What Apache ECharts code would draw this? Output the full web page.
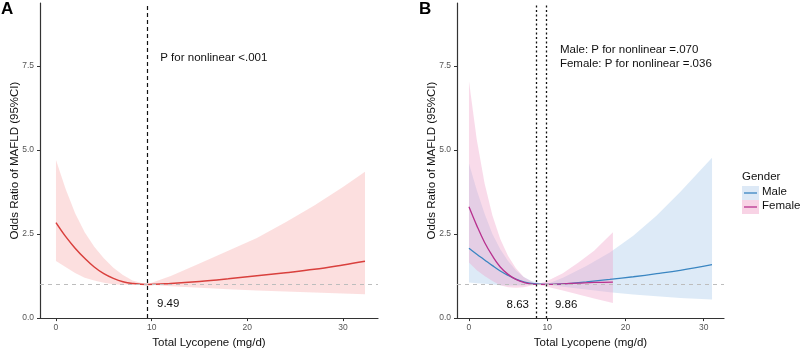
<!DOCTYPE html>
<html>
<head>
<meta charset="utf-8">
<script src="https://cdn.jsdelivr.net/npm/echarts@6/dist/echarts.min.js"></script>
<style>
  html, body { margin: 0; padding: 0; background: #fff; }
  #chart { width: 800px; height: 354px; }
</style>
</head>
<body>
<div id="chart"></div>
<script>
// Panel A: overall
var xA  = [0, 1, 2, 3, 4, 5, 6, 7, 8, 9.49, 12, 15, 18, 21, 24, 27, 30, 32.3];
var orA = [2.84, 2.43, 2.08, 1.78, 1.52, 1.32, 1.18, 1.08, 1.03, 1.0, 1.03, 1.09, 1.17, 1.26, 1.35, 1.45, 1.58, 1.69];
var loA = [1.70, 1.52, 1.34, 1.20, 1.12, 1.05, 1.01, 0.995, 0.99, 1.0, 0.95, 0.90, 0.86, 0.82, 0.79, 0.76, 0.73, 0.71];
var hiA = [4.70, 3.85, 3.12, 2.55, 2.12, 1.78, 1.50, 1.28, 1.12, 1.0, 1.25, 1.62, 2.0, 2.38, 2.85, 3.35, 3.9, 4.35];

// Panel B: by gender
var xMale  = [0, 1, 2, 3, 4, 5, 6, 7, 8, 9.86, 12, 15, 18, 21, 24, 27, 31.07];
var orMale = [2.08, 1.90, 1.73, 1.56, 1.40, 1.27, 1.16, 1.08, 1.03, 1.0, 1.02, 1.08, 1.15, 1.23, 1.32, 1.42, 1.59];
var loMale = [1.06, 1.04, 1.02, 1.0, 0.98, 0.97, 0.97, 0.98, 0.99, 1.0, 0.93, 0.85, 0.77, 0.70, 0.65, 0.60, 0.55];
var hiMale = [4.6, 3.8, 3.1, 2.5, 2.05, 1.7, 1.42, 1.22, 1.1, 1.0, 1.2, 1.55, 1.95, 2.45, 3.05, 3.75, 4.77];

var xFemale  = [0, 1, 2, 3, 4, 5, 6, 7, 8.63, 10, 12, 14, 16, 18.4];
var orFemale = [3.31, 2.75, 2.25, 1.85, 1.52, 1.30, 1.15, 1.06, 1.0, 1.0, 1.02, 1.04, 1.06, 1.07];
var loFemale = [1.65, 1.42, 1.25, 1.1, 0.98, 0.92, 0.9, 0.92, 1.0, 0.93, 0.82, 0.70, 0.58, 0.45];
var hiFemale = [7.04, 5.3, 4.0, 3.05, 2.35, 1.85, 1.48, 1.22, 1.0, 1.1, 1.33, 1.65, 2.0, 2.55];

var knotA = 9.49, knotFemale = 8.63, knotMale = 9.86;
var yTicks = [0, 2.5, 5, 7.5];
var xTicks = [0, 10, 20, 30];

var FONT = 'Liberation Sans, Arial, sans-serif';
var myChart = echarts.init(document.getElementById('chart'));

function xAxisCfg(idx, min, max) {
  return {
    type: 'value', gridIndex: idx, min: min, max: max,
    name: 'Total Lycopene (mg/d)', nameLocation: 'middle', nameGap: 18,
    nameTextStyle: { fontSize: 11.5, color: '#111', fontFamily: FONT },
    axisLine: { onZero: false, lineStyle: { color: '#333', width: 1.2 } },
    axisTick: { customValues: xTicks, length: 3, lineStyle: { color: '#333' } },
    axisLabel: { customValues: xTicks, margin: 5, fontSize: 8.5, color: '#555', fontFamily: FONT },
    splitLine: { show: false }
  };
}
function yAxisCfg(idx) {
  return {
    type: 'value', gridIndex: idx, min: 0, max: 9.37,
    name: 'Odds Ratio of MAFLD (95%CI)', nameLocation: 'middle', nameGap: 19,
    nameMoveOverlap: false,
    nameTextStyle: { fontSize: 11.5, color: '#111', fontFamily: FONT },
    axisLine: { show: true, onZero: false, lineStyle: { color: '#333', width: 1.2 } },
    axisTick: { show: true, customValues: yTicks, length: 3, lineStyle: { color: '#333' } },
    axisLabel: {
      customValues: yTicks, margin: 6, fontSize: 8.5, color: '#555', fontFamily: FONT,
      formatter: function (v) { return v.toFixed(1); }
    },
    splitLine: { show: false }
  };
}

// confidence band drawn as a polygon through the axis scales
function band(xs, lo, hi, color, idx) {
  return {
    type: 'custom', xAxisIndex: idx, yAxisIndex: idx, silent: true, z: 1,
    data: xs.map(function (x, i) { return [x, lo[i], hi[i]]; }),
    encode: { x: 0, y: [1, 2] },
    renderItem: function (params, api) {
      if (params.dataIndex !== 0) return;
      var pts = [];
      for (var i = 0; i < xs.length; i++) pts.push(api.coord([xs[i], hi[i]]));
      for (var j = xs.length - 1; j >= 0; j--) pts.push(api.coord([xs[j], lo[j]]));
      return { type: 'polygon', shape: { points: pts }, style: { fill: color } };
    }
  };
}

function pair(xs, ys) {
  return xs.map(function (x, i) { return [x, ys[i]]; });
}

function textPoint(coord, text, pos) {
  return {
    coord: coord, symbolSize: 0,
    label: { show: true, position: pos, distance: 0, formatter: text,
      fontSize: 11.5, color: '#111', fontFamily: FONT }
  };
}

var refLine = {
  yAxis: 1,
  lineStyle: { color: '#bdbdbd', type: [4, 4], width: 1 }
};

var option = {
  animation: false,
  textStyle: { fontFamily: FONT },
  title: [
    { text: 'A', left: 1, top: 1, padding: 0, textStyle: { fontSize: 17, fontWeight: 'bold', color: '#000' } },
    { text: 'B', left: 419, top: 1, padding: 0, textStyle: { fontSize: 17, fontWeight: 'bold', color: '#000' } }
  ],
  grid: [
    { left: 40, top: 3, width: 338, height: 316 },
    { left: 457, top: 3, width: 267, height: 316 }
  ],
  xAxis: [xAxisCfg(0, -1.67, 33.66), xAxisCfg(1, -1.53, 32.6)],
  yAxis: [yAxisCfg(0), yAxisCfg(1)],
  series: [
    band(xA, loA, hiA, 'rgba(246,170,172,0.38)', 0),
    {
      type: 'line', name: 'Overall', xAxisIndex: 0, yAxisIndex: 0, z: 3,
      data: pair(xA, orA), smooth: 0.4, showSymbol: false,
      lineStyle: { color: '#d9403d', width: 1.5 },
      markLine: {
        silent: true, symbol: 'none', label: { show: false },
        data: [
          refLine,
          { xAxis: knotA, lineStyle: { color: '#111', type: [4, 3], width: 1.2 } }
        ]
      },
      markPoint: {
        silent: true,
        data: [
          textPoint([10.9, 7.75], 'P for nonlinear <.001', 'right'),
          textPoint([10.56, 0.415], String(knotA), 'right')
        ]
      }
    },
    band(xMale, loMale, hiMale, 'rgba(175,205,236,0.42)', 1),
    band(xFemale, loFemale, hiFemale, 'rgba(240,160,200,0.38)', 1),
    {
      type: 'line', name: 'Male', xAxisIndex: 1, yAxisIndex: 1, z: 3,
      data: pair(xMale, orMale), smooth: 0.4, showSymbol: false,
      lineStyle: { color: '#3a86c2', width: 1.3 },
      markLine: {
        silent: true, symbol: 'none', label: { show: false },
        data: [
          refLine,
          { xAxis: knotFemale, lineStyle: { color: '#111', type: [2, 2.5], width: 1.3 } },
          { xAxis: knotMale, lineStyle: { color: '#111', type: [2, 2.5], width: 1.3 } }
        ]
      },
      markPoint: {
        silent: true,
        data: [
          textPoint([11.63, 7.97], 'Male: P for nonlinear =.070', 'right'),
          textPoint([11.63, 7.56], 'Female: P for nonlinear =.036', 'right'),
          textPoint([7.67, 0.385], String(knotFemale), 'left'),
          textPoint([10.99, 0.385], String(knotMale), 'right')
        ]
      }
    },
    {
      type: 'line', name: 'Female', xAxisIndex: 1, yAxisIndex: 1, z: 4,
      data: pair(xFemale, orFemale), smooth: 0.4, showSymbol: false,
      lineStyle: { color: '#b8328f', width: 1.3 }
    }
  ],
  graphic: [
    { type: 'text', left: 742, top: 171, style: { text: 'Gender', fontSize: 11.5, fill: '#111', fontFamily: FONT } },
    { type: 'rect', shape: { x: 742, y: 186, width: 17, height: 14 }, style: { fill: '#dde9f6' } },
    { type: 'rect', shape: { x: 742, y: 200, width: 17, height: 14 }, style: { fill: '#f8d3e5' } },
    { type: 'line', shape: { x1: 744, y1: 193, x2: 757, y2: 193 }, style: { stroke: '#3a86c2', lineWidth: 1.3 } },
    { type: 'line', shape: { x1: 744, y1: 207, x2: 757, y2: 207 }, style: { stroke: '#b8328f', lineWidth: 1.3 } },
    { type: 'text', left: 762, top: 186, style: { text: 'Male', fontSize: 11.5, fill: '#111', fontFamily: FONT } },
    { type: 'text', left: 762, top: 200, style: { text: 'Female', fontSize: 11.5, fill: '#111', fontFamily: FONT } }
  ]
};

myChart.setOption(option);
</script>
</body>
</html>
